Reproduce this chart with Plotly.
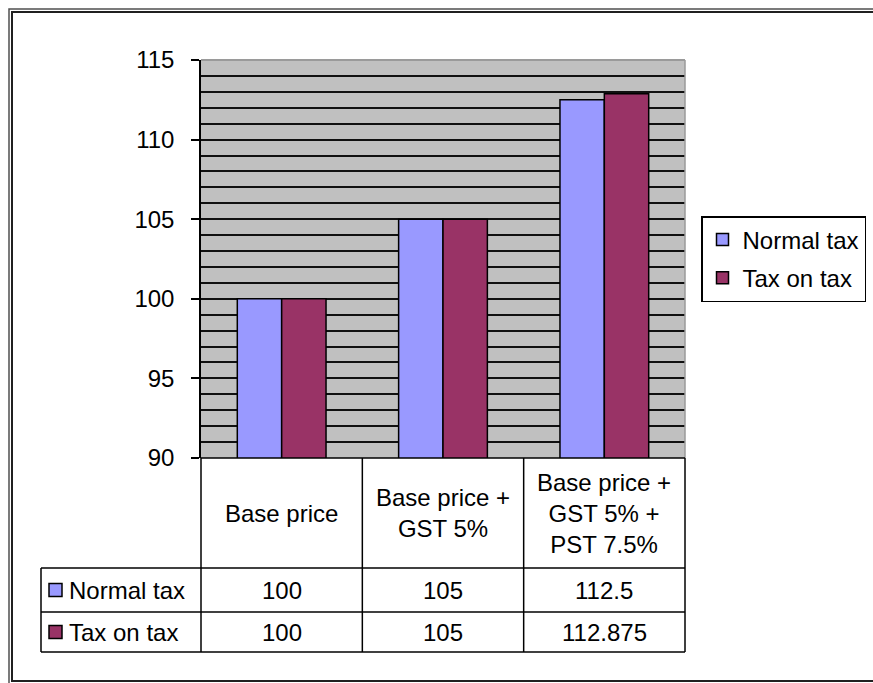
import plotly.graph_objects as go

# ---- data -------------------------------------------------------------
categories = ["Base price", "Base price +<br>GST 5%", "Base price +<br>GST 5% +<br>PST 7.5%"]
series_names = ["Normal tax", "Tax on tax"]
normal_tax = [100, 105, 112.5]
tax_on_tax = [100, 105, 112.875]
y_ticks = [90, 95, 100, 105, 110, 115]

series_values = [normal_tax, tax_on_tax]
series_colors = ["#9999FF", "#993366"]

# ---- page geometry (pixels) -------------------------------------------
W, H = 873, 683
M_L, M_R, M_T, M_B = 201, 188, 60, 225
PW = W - M_L - M_R
PH = H - M_T - M_B


def fx(px):
    return (px - M_L) / PW


def fy(py):
    return (H - M_B - py) / PH


FONT = "Liberation Sans, Arial, sans-serif"
FS = 24
LINE = "#000000"

fig = go.Figure()
for name, vals, col in zip(series_names, series_values, series_colors):
    fig.add_trace(go.Bar(
        x=categories, y=vals, name=name,
        marker=dict(color=col, line=dict(color="#000000", width=1.5)),
        legendgroup=name,
    ))

shapes = []
annotations = []

# outer double frame
shapes.append(dict(type="rect", xref="paper", yref="paper",
                   x0=fx(9), x1=fx(W + 20), y0=fy(9), y1=fy(H + 20),
                   line=dict(color="#505050", width=1.5)))
shapes.append(dict(type="rect", xref="paper", yref="paper",
                   x0=fx(12), x1=fx(W + 10), y0=fy(12), y1=fy(681),
                   line=dict(color="#202020", width=2)))

# light border on the top and right of the plot area
shapes.append(dict(type="line", xref="paper", yref="paper", x0=0, x1=1, y0=1, y1=1,
                   line=dict(color="#9a9a9a", width=2)))
shapes.append(dict(type="line", xref="paper", yref="paper", x0=1, x1=1, y0=0, y1=1,
                   line=dict(color="#9a9a9a", width=1.5)))

# ---- data table under the plot ----------------------------------------
n = len(categories)
col_edges = [k / n for k in range(n + 1)]          # category boundaries on the x axis
row_edges_px = [H - M_B, 568, 612, 652]              # header, row 1, row 2 bottoms
table_left = fx(41)

for xe in col_edges:
    shapes.append(dict(type="line", xref="paper", yref="paper",
                       x0=xe, x1=xe, y0=fy(row_edges_px[0]), y1=fy(row_edges_px[-1]),
                       line=dict(color=LINE, width=1.5)))
shapes.append(dict(type="line", xref="paper", yref="paper",
                   x0=0, x1=1, y0=0, y1=0, line=dict(color=LINE, width=1.5)))
for ry in row_edges_px[1:]:
    shapes.append(dict(type="line", xref="paper", yref="paper",
                       x0=table_left, x1=1, y0=fy(ry), y1=fy(ry),
                       line=dict(color=LINE, width=1.5)))
shapes.append(dict(type="line", xref="paper", yref="paper",
                   x0=table_left, x1=table_left, y0=fy(row_edges_px[1]), y1=fy(row_edges_px[-1]),
                   line=dict(color=LINE, width=1.5)))

# header row: category names
header_mid = (row_edges_px[0] + row_edges_px[1]) / 2
for cat in categories:
    annotations.append(dict(xref="x", yref="paper", x=cat, y=fy(header_mid),
                            text=cat, showarrow=False, xanchor="center", yanchor="middle",
                            font=dict(family=FONT, size=FS, color="#000")))

# value rows with colour keys
for r, (name, vals, col) in enumerate(zip(series_names, series_values, series_colors)):
    mid = (row_edges_px[r + 1] + row_edges_px[r + 2]) / 2
    shapes.append(dict(type="rect", xref="paper", yref="paper",
                       x0=fx(49), x1=fx(62), y0=fy(mid - 6.5), y1=fy(mid + 6.5),
                       fillcolor=col, line=dict(color="#000", width=1.5)))
    annotations.append(dict(xref="paper", yref="paper", x=fx(67), y=fy(mid),
                            text=name, showarrow=False, xanchor="left", yanchor="middle",
                            font=dict(family=FONT, size=FS, color="#000")))
    for cat, v in zip(categories, vals):
        annotations.append(dict(xref="x", yref="paper", x=cat, y=fy(mid),
                                text=f"{v:g}", showarrow=False, xanchor="center", yanchor="middle",
                                font=dict(family=FONT, size=FS, color="#000")))

fig.update_layout(
    width=W, height=H,
    margin=dict(l=M_L, r=M_R, t=M_T, b=M_B, pad=0, autoexpand=False),
    paper_bgcolor="#FFFFFF",
    plot_bgcolor="#C0C0C0",
    barmode="group",
    bargap=0.45,
    bargroupgap=0,
    font=dict(family=FONT, size=FS, color="#000"),
    showlegend=True,
    legend=dict(
        x=fx(701), xanchor="left", y=fy(216), yanchor="top",
        bgcolor="#FFFFFF", bordercolor="#000", borderwidth=1.5,
        font=dict(family=FONT, size=FS, color="#000"),
        tracegroupgap=4, itemwidth=30,
    ),
    xaxis=dict(range=[-0.5, n - 0.5], showticklabels=False, showgrid=False,
               zeroline=False, showline=False, ticks=""),
    yaxis=dict(range=[y_ticks[0], y_ticks[-1]], tickmode="array", tickvals=y_ticks,
               ticks="outside", ticklen=8, tickwidth=1.5, tickcolor="#000",
               showline=True, linecolor="#000", linewidth=1.5,
               showgrid=True, gridcolor="#101010", gridwidth=1.6,
               minor=dict(dtick=1, tick0=0, showgrid=True, gridcolor="#101010", gridwidth=1.6, ticks=""),
               zeroline=False, ticklabelstandoff=12,
               tickfont=dict(family=FONT, size=FS, color="#000")),
    shapes=shapes,
    annotations=annotations,
)

fig.write_html("out.html")
